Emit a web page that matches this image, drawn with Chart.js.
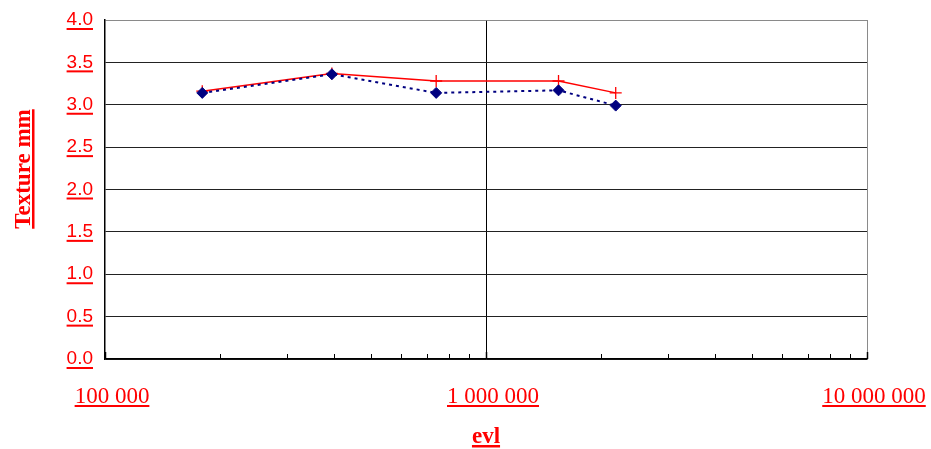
<!DOCTYPE html>
<html>
<head>
<meta charset="utf-8">
<title>Texture vs evl</title>
<script src="https://cdn.jsdelivr.net/npm/chart.js@4/dist/chart.umd.min.js"></script>
<style>
  html, body { margin: 0; padding: 0; background: #fff; }
  canvas { display: block; }
</style>
</head>
<body>
<canvas id="c" width="931" height="449"></canvas>
<script>
// evl (x, log scale) and texture depth in mm for the two measured series
const evl = [180000, 394000, 740000, 1550000, 2190000];
const textureA = [3.16, 3.37, 3.28, 3.28, 3.14];   // red, solid with crosses
const textureB = [3.14, 3.36, 3.14, 3.17, 2.99];   // navy, dotted with diamonds

const xTickValues = [100000, 1000000, 10000000];
const xTickLabels = ['100 000', '1 000 000', '10 000 000'];
const yTickValues = [0, 0.5, 1, 1.5, 2, 2.5, 3, 3.5, 4];

const xTitle = 'evl';
const yTitle = 'Texture mm';

const RED = '#ff0000';
const NAVY = '#000080';
const Y_FONT = '19px "Liberation Sans", Arial, sans-serif';
const X_FONT = '23px "Liberation Serif", "Times New Roman", serif';
const TITLE_FONT = 'bold 23px "Liberation Serif", "Times New Roman", serif';
const Y_TICK_PAD = 12;

const toPoints = (xs, ys) => xs.map((x, i) => ({ x: x, y: ys[i] }));

// Draws inward minor ticks, the underlined x labels, underlines under y labels and both axis titles
const decorations = {
  id: 'decorations',
  afterDraw(chart) {
    const ctx = chart.ctx;
    const xs = chart.scales.x;
    const ys = chart.scales.y;
    const area = chart.chartArea;
    ctx.save();

    // minor ticks (2..9 within each decade) pointing up into the plot
    ctx.strokeStyle = '#000';
    ctx.lineWidth = 1;
    for (let d = xTickValues[0]; d < xTickValues[xTickValues.length - 1]; d *= 10) {
      for (let k = 2; k <= 9; k++) {
        const px = Math.round(xs.getPixelForValue(k * d)) + 0.5;
        ctx.beginPath();
        ctx.moveTo(px, area.bottom);
        ctx.lineTo(px, area.bottom - 5);
        ctx.stroke();
      }
    }
    // major tick marks at the decades
    ctx.lineWidth = 1.5;
    xTickValues.forEach(v => {
      const px = Math.round(xs.getPixelForValue(v)) + 0.5;
      ctx.beginPath();
      ctx.moveTo(px, area.bottom);
      ctx.lineTo(px, area.bottom - 7);
      ctx.stroke();
    });

    // x tick labels, underlined
    ctx.fillStyle = RED;
    ctx.strokeStyle = RED;
    ctx.font = X_FONT;
    ctx.textAlign = 'center';
    ctx.textBaseline = 'alphabetic';
    xTickValues.forEach((v, i) => {
      const cx = xs.getPixelForValue(v) + 7;
      const txt = xTickLabels[i];
      const w = ctx.measureText(txt).width;
      const base = area.bottom + 44;
      ctx.fillText(txt, cx, base);
      ctx.fillRect(cx - w / 2, base + 2, w, 2);
    });

    // underlines under the y tick labels drawn by the scale
    ctx.font = Y_FONT;
    ys.ticks.forEach(t => {
      const py = ys.getPixelForValue(t.value);
      const txt = t.value.toFixed(1);
      const w = ctx.measureText(txt).width;
      const right = area.left - Y_TICK_PAD;
      ctx.fillRect(right - w, py + 8, w, 2);
    });

    // x axis title
    ctx.font = TITLE_FONT;
    ctx.textAlign = 'center';
    const tx = (area.left + area.right) / 2;
    const tb = 443;
    const tw = ctx.measureText(xTitle).width;
    ctx.fillText(xTitle, tx, tb);
    ctx.fillRect(tx - tw / 2, tb + 2, tw, 2.5);

    // y axis title, rotated
    ctx.translate(30, 169);
    ctx.rotate(-Math.PI / 2);
    const yw = ctx.measureText(yTitle).width;
    ctx.fillText(yTitle, 0, 0);
    ctx.fillRect(-yw / 2, 2, yw, 2.5);

    ctx.restore();
  }
};

new Chart(document.getElementById('c'), {
  type: 'scatter',
  data: {
    datasets: [
      {
        label: 'B',
        data: toPoints(evl, textureB),
        showLine: true,
        borderColor: NAVY,
        borderWidth: 2,
        borderDash: [3, 4],
        pointStyle: 'rectRot',
        pointRadius: 5.5,
        pointBackgroundColor: NAVY,
        pointBorderColor: NAVY,
        pointBorderWidth: 1,
        order: 0
      },
      {
        label: 'A',
        data: toPoints(evl, textureA),
        showLine: true,
        borderColor: RED,
        borderWidth: 1.5,
        pointStyle: 'cross',
        pointRadius: 6,
        pointBorderColor: RED,
        pointBorderWidth: 1.3,
        order: 1
      }
    ]
  },
  options: {
    responsive: false,
    animation: false,
    events: [],
    layout: { padding: { top: 20, right: 64, left: 0, bottom: 0 } },
    plugins: {
      legend: { display: false },
      tooltip: { enabled: false }
    },
    scales: {
      x: {
        type: 'logarithmic',
        min: xTickValues[0],
        max: xTickValues[xTickValues.length - 1],
        afterBuildTicks(scale) {
          scale.ticks = xTickValues.map(v => ({ value: v, major: true }));
        },
        afterFit(scale) {
          scale.height = 90;
          scale.paddingLeft = 0;
          scale.paddingRight = 0;
        },
        ticks: { display: false },
        grid: {
          drawTicks: false,
          lineWidth: 1,
          color: ctx => {
            const v = ctx.tick && ctx.tick.value;
            if (v === xTickValues[1]) return '#000';
            if (v === xTickValues[2]) return '#8a8a8a';
            return 'rgba(0,0,0,0)';
          }
        },
        border: { display: true, color: '#000', width: 1.5 }
      },
      y: {
        type: 'linear',
        min: yTickValues[0],
        max: yTickValues[yTickValues.length - 1],
        afterBuildTicks(scale) {
          scale.ticks = yTickValues.map(v => ({ value: v }));
        },
        afterFit(scale) {
          scale.width = 105;
          scale.paddingTop = 0;
          scale.paddingBottom = 0;
        },
        ticks: {
          color: RED,
          font: { family: '"Liberation Sans", Arial, sans-serif', size: 19 },
          padding: Y_TICK_PAD,
          callback: v => Number(v).toFixed(1)
        },
        grid: {
          drawTicks: false,
          lineWidth: 1,
          color: ctx => (ctx.tick && ctx.tick.value === yTickValues[yTickValues.length - 1]) ? '#8a8a8a' : '#222'
        },
        border: { display: true, color: '#000', width: 1.5 }
      }
    }
  },
  plugins: [decorations]
});
</script>
</body>
</html>
